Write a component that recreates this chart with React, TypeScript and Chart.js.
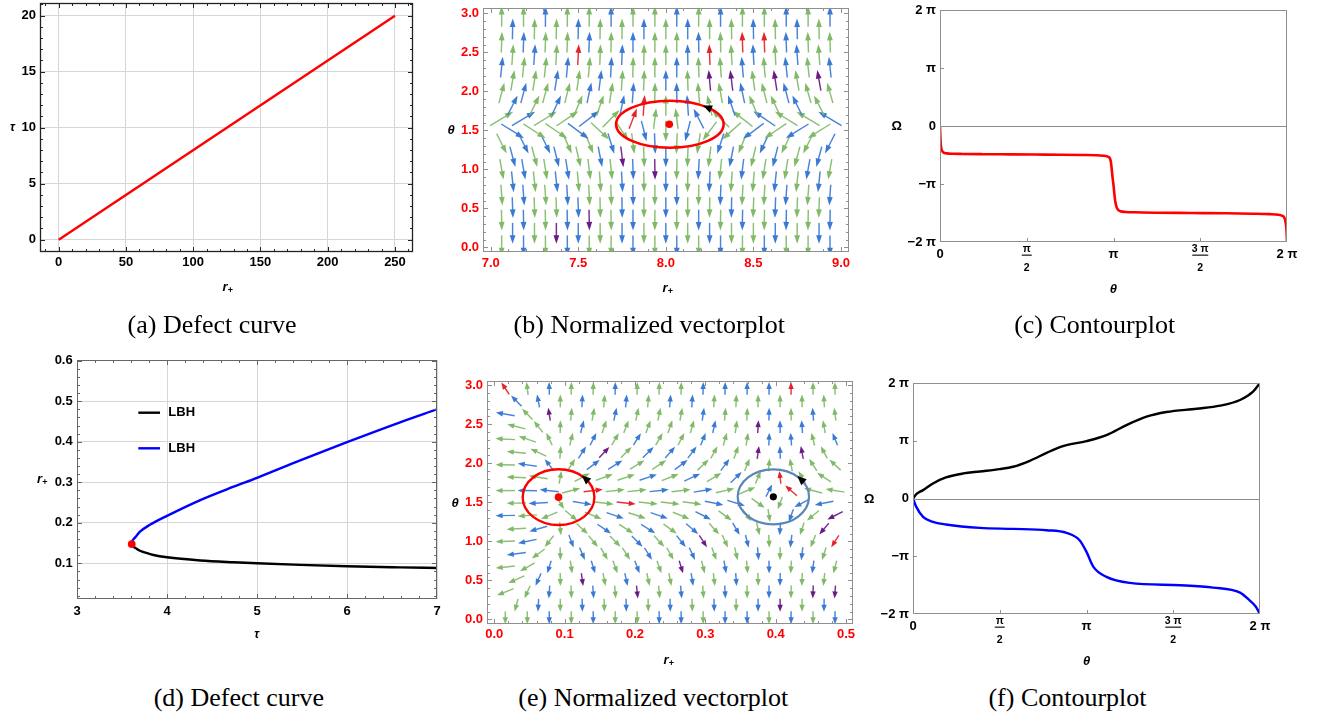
import React, { useEffect, useRef } from 'react';
import { Chart, registerables } from 'chart.js';

Chart.register(...registerables);

const SANS = '"Liberation Sans", Arial, Helvetica, sans-serif';
const SERIF = '"Liberation Serif", "Times New Roman", Times, serif';
const PI = Math.PI;

Chart.defaults.font.family = SANS;
Chart.defaults.font.weight = 'bold' as any;
Chart.defaults.font.size = 13;

/* ---------------- (a) defect curve ---------------- */
const A_R_PLUS = [0, 250];
const A_TAU = [0, 20];
const A_X_TICKS = [0, 50, 100, 150, 200, 250];
const A_Y_TICKS = [0, 5, 10, 15, 20];

/* ---------------- shared theta rows of the vector grids ---------------- */
const THETA_ROWS = [0.02, 0.18, 0.35, 0.51, 0.67, 0.84, 1.0, 1.16, 1.33, 1.49, 1.65, 1.82, 1.98, 2.14, 2.31, 2.47, 2.63, 2.8, 2.96];

/* ---------------- (b) normalized vector plot ---------------- */
const B_X_TICKS = [7.0, 7.5, 8.0, 8.5, 9.0];
const B_Y_TICKS = [0, 0.5, 1, 1.5, 2, 2.5, 3];
const B_X_EVEN = [7.0625, 7.1875, 7.3125, 7.4375, 7.5625, 7.6875, 7.8125, 7.9375, 8.0625, 8.1875, 8.3125, 8.4375, 8.5625, 8.6875, 8.8125, 8.9375];
const B_X_ODD = [7.125, 7.25, 7.375, 7.5, 7.625, 7.75, 7.875, 8.0, 8.125, 8.25, 8.375, 8.5, 8.625, 8.75, 8.875];
// arrow directions (degrees, screen orientation), row 0 = bottom
const B_ANGLES = [
  [-90, -90, -90, -90, -90, -90, -90, -90, -90, -90, -90, -90, -90, -90, -90, -90],
  [-90, -90, -90, -90, -90, -90, -90, -90, -90, -90, -90, -90, -90, -90, -90],
  [-89, -89, -89, -89, -89, -89, -90, -90, -90, -90, -91, -91, -91, -91, -91, -91],
  [-88, -88, -88, -88, -89, -89, -90, -90, -90, -91, -91, -92, -92, -92, -92],
  [-86, -86, -86, -87, -87, -88, -89, -90, -90, -91, -92, -93, -93, -94, -94, -94],
  [-84, -84, -84, -85, -86, -87, -89, -90, -91, -93, -94, -95, -96, -96, -96],
  [-80, -80, -81, -81, -83, -84, -88, -89, -91, -93, -96, -97, -99, -99, -100, -100],
  [-75, -75, -76, -77, -79, -83, -88, -90, -92, -97, -101, -103, -104, -105, -105],
  [-63, -63, -64, -66, -68, -73, -83, -88, -92, -99, -108, -112, -115, -116, -117, -117],
  [-32, -33, -34, -37, -43, -56, -76, -90, -104, -127, -138, -143, -146, -148, -148],
  [31, 31, 32, 34, 38, 46, 69, 83, 97, 117, 135, 142, 146, 148, 149, 149],
  [63, 64, 65, 67, 71, 78, 86, 90, 94, 103, 109, 113, 115, 116, 117],
  [75, 75, 75, 76, 78, 81, 86, 89, 91, 95, 100, 102, 104, 105, 106, 106],
  [80, 81, 81, 82, 83, 86, 88, 90, 92, 95, 97, 98, 99, 100, 100],
  [84, 84, 84, 85, 85, 87, 89, 90, 90, 92, 94, 95, 95, 96, 96, 96],
  [86, 86, 87, 87, 88, 88, 89, 90, 91, 92, 93, 93, 93, 94, 94],
  [88, 88, 88, 88, 88, 89, 90, 90, 90, 91, 91, 92, 92, 92, 92, 92],
  [89, 89, 89, 89, 89, 90, 90, 90, 90, 90, 91, 91, 91, 91, 91],
  [90, 90, 90, 90, 90, 90, 90, 90, 90, 90, 90, 90, 90, 90, 90, 90],
];
const B_COLORS = [
  'GBGBGGBGBGBGBGGB', 'BGPBGBGBGBGGBGB', 'GBGBPGBGGBGBGBGB', 'BGGBGBGBGGBGBGG',
  'GBGBGGBGBGBGGBGB', 'BGBGGBGBGBGGBGB', 'GBGBGGBPGBGBGGBG', 'BGBGBPGBGGBGBGB',
  'GBBGGBGBGGBGBGGB', 'BGGBGGBGBGGBGBG', 'GBGGBGRGGBGGBGGB', 'BGBGGBRGBGBGGBG',
  'GBGGBGBGBGGBGBGG', 'GGBGBGGBGPPGPGP', 'BGGBGBGGBGGBGBGB', 'GBGRGBGGBRGBGBG',
  'GBGGBGBGGBGRRBGG', 'BGGBGGBGBGGBGBG', 'GGBGGBGGBGBGGBGB',
];
const B_ZERO = { r: 8.02, theta: 1.578 };
const B_LOOP = { r: 8.023, theta: 1.578, dr: 0.307, dtheta: 0.301, head: 46 };

/* ---------------- (c) contour plot ---------------- */
const C_THETA_PI = [0, 0.002, 0.004, 0.007, 0.011, 0.017, 0.027, 0.04, 0.07, 0.13, 0.25, 0.4, 0.55, 0.7, 0.82, 0.9, 0.94, 0.96, 0.972, 0.98, 0.985, 0.99, 0.995, 1.0, 1.005, 1.01, 1.017, 1.025, 1.04, 1.07, 1.12, 1.25, 1.45, 1.65, 1.8, 1.9, 1.95, 1.97, 1.983, 1.99, 1.995, 1.998, 2.0];
const C_OMEGA_PI = [0, -0.18, -0.3, -0.38, -0.42, -0.45, -0.465, -0.472, -0.478, -0.482, -0.486, -0.489, -0.492, -0.495, -0.5, -0.505, -0.512, -0.52, -0.535, -0.56, -0.62, -0.75, -0.9, -1.02, -1.17, -1.3, -1.39, -1.44, -1.47, -1.482, -1.488, -1.495, -1.5, -1.505, -1.512, -1.52, -1.53, -1.545, -1.57, -1.63, -1.72, -1.84, -2.0];
const PI_Y_TICKS = [-2, -1, 0, 1, 2];
const PI_Y_LABELS = ['\u22122 \u03c0', '\u2212\u03c0', '0', '\u03c0', '2 \u03c0'];
const PI_X_TICKS = [0, 0.5, 1, 1.5, 2];
const PI_X_LABELS = [{ n: '0' }, { n: '\u03c0', d: '2' }, { n: '\u03c0' }, { n: '3 \u03c0', d: '2' }, { n: '2 \u03c0' }];

/* ---------------- (d) defect curve ---------------- */
const D_X_TICKS = [3, 4, 5, 6, 7];
const D_Y_TICKS = [0.1, 0.2, 0.3, 0.4, 0.5, 0.6];
const D_TAU_BLUE = [3.608, 3.615, 3.626, 3.65, 3.7, 3.81, 4.0, 4.37, 4.74, 5.0, 5.48, 6.0, 6.59, 7.0];
const D_R_BLUE = [0.1475, 0.155, 0.159, 0.165, 0.178, 0.195, 0.217, 0.256, 0.289, 0.311, 0.354, 0.399, 0.448, 0.48];
const D_TAU_BLACK = [3.608, 3.627, 3.65, 3.7, 3.78, 3.85, 4.0, 4.37, 4.74, 5.0, 5.48, 6.0, 6.59, 7.0];
const D_R_BLACK = [0.1475, 0.141, 0.1378, 0.131, 0.125, 0.1205, 0.1148, 0.107, 0.1025, 0.1, 0.096, 0.0926, 0.09, 0.0885];
const D_CRIT = { tau: 3.608, r: 0.1475 };
const D_LEGEND = ['LBH', 'LBH'];

/* ---------------- (e) normalized vector plot ---------------- */
const E_X_TICKS = [0, 0.1, 0.2, 0.3, 0.4, 0.5];
const E_Y_TICKS = [0, 0.5, 1, 1.5, 2, 2.5, 3];
const E_X_EVEN = [0.0156, 0.0469, 0.0781, 0.1094, 0.1406, 0.1719, 0.2031, 0.2344, 0.2656, 0.2969, 0.3281, 0.3594, 0.3906, 0.4219, 0.4531, 0.4844];
const E_X_ODD = [0.0313, 0.0625, 0.0938, 0.125, 0.1563, 0.1875, 0.2188, 0.25, 0.2813, 0.3125, 0.3438, 0.375, 0.4063, 0.4375, 0.4688];
const E_ANGLES = [
  [-90, -90, -90, -90, -90, -90, -90, -90, -90, -90, -90, -90, -90, -90, -90, -90],
  [-105, -93, -90, -89, -89, -89, -89, -89, -89, -89, -90, -90, -90, -90, -91],
  [-158, -114, -94, -88, -86, -85, -84, -85, -85, -86, -87, -89, -90, -91, -92, -94],
  [-156, -114, -89, -82, -79, -78, -78, -79, -81, -83, -86, -88, -91, -92, -96],
  [-174, -150, -107, -82, -73, -70, -69, -71, -73, -76, -80, -85, -89, -93, -98, -104],
  [-172, -143, -88, -67, -60, -57, -58, -61, -65, -70, -77, -85, -91, -97, -108],
  [-178, -168, -128, -69, -51, -46, -45, -47, -51, -57, -65, -76, -87, -97, -112, -123],
  [-177, -164, -84, -43, -34, -32, -32, -35, -40, -48, -60, -77, -94, -108, -130],
  [-179, -176, -157, -40, -22, -19, -18, -19, -22, -27, -36, -53, -81, -110, -140, -153],
  [-179, -177, -58, -9, -7, -6, -6, -7, -8, -11, -17, -36, -110, -152, -169],
  [180, 179, 173, 15, 7, 6, 6, 6, 7, 9, 13, 23, 63, 139, 165, 171],
  [178, 171, 79, 28, 20, 19, 19, 21, 25, 31, 44, 67, 97, 120, 147],
  [179, 172, 128, 57, 37, 32, 31, 33, 37, 43, 53, 68, 85, 101, 123, 137],
  [175, 155, 86, 57, 47, 45, 45, 48, 53, 61, 70, 82, 92, 101, 118],
  [177, 161, 116, 76, 63, 59, 58, 60, 63, 68, 74, 81, 88, 94, 104, 112],
  [166, 128, 89, 76, 71, 69, 70, 71, 74, 78, 82, 87, 91, 94, 101],
  [170, 134, 99, 85, 80, 78, 78, 79, 80, 82, 85, 87, 89, 91, 95, 98],
  [134, 101, 90, 87, 85, 85, 85, 85, 86, 87, 88, 89, 90, 91, 93],
  [124, 97, 91, 89, 89, 89, 89, 89, 89, 89, 89, 90, 90, 90, 90, 91],
];
const E_COLORS = [
  'GGBGBGGBBGBBGBGB', 'GBGBGBGBGBGBPGB', 'GGBGBGPGBGBGBGPP', 'GBGPGBGGBGBGBGG',
  'GGBGBGBGPGBGBGBG', 'BGGBGGBGBGGBGBG', 'GBGBGGBGBPGBGBGR', 'GBGGBGBGBGBGBGP',
  'BGGGGBGBGBGGGBGP', 'GBGBGRGGGBBGGBB', 'GBBGRGGBGBGGBRGG', 'GGGGGGBGBGBGRGG',
  'GBBGBBGGBGBGGGGG', 'GGGBPGBBBGGPBPG', 'GGGGBGBGGBGGBBGB', 'GGGBGGGGGBGPBBG',
  'BGPGGBGGGBGGBGBG', 'BBGBGBGBBGGGGGG', 'RGBGGBGGGBBBBRGG',
];
const E_ZERO_A = { r: 0.0913, theta: 1.566 };
const E_ZERO_B = { r: 0.3967, theta: 1.57 };
const E_LOOP_A = { r: 0.0913, theta: 1.566, dr: 0.051, dtheta: 0.357, head: 42 };
const E_LOOP_B = { r: 0.3967, theta: 1.57, dr: 0.0507, dtheta: 0.353, head: 40 };

/* ---------------- (f) contour plot ---------------- */
const F_THETA_K_PI = [0, 0.019, 0.058, 0.115, 0.19, 0.29, 0.385, 0.5, 0.577, 0.673, 0.77, 0.865, 1.0, 1.115, 1.23, 1.346, 1.46, 1.635, 1.77, 1.885, 1.96, 2.0];
const F_OMEGA_K_PI = [0, 0.075, 0.145, 0.26, 0.364, 0.434, 0.468, 0.509, 0.55, 0.653, 0.79, 0.907, 0.994, 1.098, 1.27, 1.416, 1.497, 1.555, 1.607, 1.705, 1.85, 2.0];
const F_THETA_B_PI = [0, 0.019, 0.058, 0.115, 0.19, 0.385, 0.577, 0.77, 0.885, 0.96, 1.0, 1.04, 1.115, 1.25, 1.54, 1.73, 1.885, 1.94, 1.975, 2.0];
const F_OMEGA_B_PI = [0, -0.145, -0.318, -0.405, -0.45, -0.509, -0.526, -0.549, -0.595, -0.723, -0.925, -1.185, -1.358, -1.462, -1.503, -1.543, -1.63, -1.763, -1.87, -2.0];

const CAPTIONS = [
  { text: '(a) Defect curve', cx: 212, base: 333.3 },
  { text: '(b) Normalized vectorplot', cx: 649.3, base: 333.3 },
  { text: '(c) Contourplot', cx: 1094.7, base: 333.3 },
  { text: '(d) Defect curve', cx: 238.8, base: 706.7 },
  { text: '(e) Normalized vectorplot', cx: 653.3, base: 706.7 },
  { text: '(f) Contourplot', cx: 1067.5, base: 706.7 },
];

const ARROW_HEX: Record<string, string> = { G: '#80ba68', B: '#3a7ad2', P: '#681b82', R: '#e3222a' };

/* ---------------- helpers ---------------- */
function steps(a: number, b: number, st: number) {
  const out: number[] = [];
  const n = Math.round((b - a) / st);
  for (let i = 0; i <= n; i++) out.push(+(a + i * st).toFixed(6));
  return out;
}

function txt(ctx: any, s: string, x: number, y: number, font: string, align = 'center', base = 'middle', color = '#000') {
  ctx.font = font;
  ctx.textAlign = align;
  ctx.textBaseline = base;
  ctx.fillStyle = color;
  ctx.fillText(s, x, y);
}

function rPlus(ctx: any, x: number, y: number) {
  txt(ctx, 'r', x, y, `italic bold 13px ${SANS}`);
  txt(ctx, '+', x + 5.5, y + 3.5, `bold 9px ${SANS}`);
}

function framePlugin(o: any) {
  return {
    id: 'frameTicks',
    beforeDatasetsDraw(chart: any) {
      if (!o.zeroLine) return;
      const { ctx, chartArea: ca, scales } = chart;
      const y = Math.round(scales.y.getPixelForValue(0)) + 0.5;
      ctx.save();
      ctx.strokeStyle = '#8a8a8a';
      ctx.lineWidth = 1.2;
      ctx.beginPath();
      ctx.moveTo(ca.left, y);
      ctx.lineTo(ca.right, y);
      ctx.stroke();
      ctx.restore();
    },
    afterDatasetsDraw(chart: any) {
      const { ctx, chartArea: ca, scales } = chart;
      const xs = scales.x, ys = scales.y;
      ctx.save();
      ctx.strokeStyle = o.color;
      ctx.lineWidth = o.frameWidth || 1;
      ctx.strokeRect(ca.left + 0.5, ca.top + 0.5, ca.right - ca.left - 1, ca.bottom - ca.top - 1);
      ctx.lineWidth = 1;
      ctx.beginPath();
      const tx = (vals: number[], len: number) => vals.forEach((v) => {
        const px = Math.round(xs.getPixelForValue(v)) + 0.5;
        if (px < ca.left - 0.1 || px > ca.right + 0.1) return;
        ctx.moveTo(px, ca.bottom); ctx.lineTo(px, ca.bottom - len);
        if (o.allSides) { ctx.moveTo(px, ca.top); ctx.lineTo(px, ca.top + len); }
      });
      const ty = (vals: number[], len: number) => vals.forEach((v) => {
        const py = Math.round(ys.getPixelForValue(v)) + 0.5;
        if (py < ca.top - 0.1 || py > ca.bottom + 0.1) return;
        ctx.moveTo(ca.left, py); ctx.lineTo(ca.left + len, py);
        if (o.allSides) { ctx.moveTo(ca.right, py); ctx.lineTo(ca.right - len, py); }
      });
      tx(o.xMinor || [], o.minor);
      ty(o.yMinor || [], o.minor);
      tx(o.xMajor, o.major);
      ty(o.yMajor, o.major);
      ctx.stroke();
      ctx.restore();
    },
  };
}

function decorPlugin(box: any, draw: (ctx: any, chart: any, P: (x: number, y: number) => [number, number]) => void) {
  return {
    id: 'decor',
    afterDatasetsDraw(chart: any) {
      const ctx = chart.ctx;
      ctx.save();
      draw(ctx, chart, (x: number, y: number) => [x - box.L, y - box.T]);
      ctx.restore();
    },
  };
}

function loopHead(ctx: any, cx: number, cy: number, rx: number, ry: number, tDeg: number) {
  const t = (tDeg * PI) / 180;
  const px = cx + rx * Math.cos(t), py = cy - ry * Math.sin(t);
  let ux = -rx * Math.sin(t), uy = -ry * Math.cos(t);
  const n = Math.hypot(ux, uy); ux /= n; uy /= n;
  const len = 9, hw = 4;
  const tipx = px + ux * len * 0.5, tipy = py + uy * len * 0.5;
  const bx = px - ux * len * 0.5, by = py - uy * len * 0.5;
  ctx.fillStyle = '#000';
  ctx.beginPath();
  ctx.moveTo(tipx, tipy);
  ctx.lineTo(bx - uy * hw, by + ux * hw);
  ctx.lineTo(bx + uy * hw, by - ux * hw);
  ctx.closePath();
  ctx.fill();
}

function arrowsPlugin(o: any) {
  return {
    id: 'arrowField',
    beforeDatasetsDraw(chart: any) {
      const { ctx, chartArea: ca, scales } = chart;
      ctx.save();
      ctx.beginPath();
      ctx.rect(ca.left, ca.top, ca.right - ca.left, ca.bottom - ca.top);
      ctx.clip();
      const W = ca.right - ca.left, H = ca.bottom - ca.top;
      chart.data.datasets.forEach((ds: any, di: number) => {
        if (!ds.isField) return;
        const meta = chart.getDatasetMeta(di);
        meta.data.forEach((el: any, k: number) => {
          const raw = ds.data[k];
          const col = ARROW_HEX[raw.c] || ARROW_HEX.G;
          const rad = (raw.a * PI) / 180;
          const c = Math.cos(rad), s = Math.sin(rad);
          const L = o.len / Math.hypot(c / W, s / H);
          const ux = c, uy = -s;
          const hx = el.x + (ux * L) / 2, hy = el.y + (uy * L) / 2;
          const tx = el.x - (ux * L) / 2, ty = el.y - (uy * L) / 2;
          const bx = hx - ux * o.head, by = hy - uy * o.head;
          ctx.strokeStyle = col;
          ctx.globalAlpha = 0.92;
          ctx.lineWidth = o.lw;
          ctx.beginPath();
          ctx.moveTo(tx, ty);
          ctx.lineTo(bx + ux, by + uy);
          ctx.stroke();
          ctx.globalAlpha = 1;
          ctx.fillStyle = col;
          const hw = o.headW / 2;
          ctx.beginPath();
          ctx.moveTo(hx, hy);
          ctx.lineTo(bx - uy * hw, by + ux * hw);
          ctx.lineTo(bx + uy * hw, by - ux * hw);
          ctx.closePath();
          ctx.fill();
        });
      });
      ctx.restore();
      ctx.save();
      (o.loops || []).forEach((lp: any) => {
        const cx = scales.x.getPixelForValue(lp.r), cy = scales.y.getPixelForValue(lp.theta);
        const rx = Math.abs(scales.x.getPixelForValue(lp.r + lp.dr) - cx);
        const ry = Math.abs(scales.y.getPixelForValue(lp.theta + lp.dtheta) - cy);
        ctx.strokeStyle = lp.color;
        ctx.lineWidth = lp.width;
        ctx.beginPath();
        ctx.ellipse(cx, cy, rx, ry, 0, 0, 2 * PI);
        ctx.stroke();
        loopHead(ctx, cx, cy, rx, ry, lp.head);
      });
      ctx.restore();
    },
  };
}

function fieldPoints(xEven: number[], xOdd: number[], rows: number[], ang: number[][], col: string[]) {
  const pts: any[] = [];
  rows.forEach((th, j) => {
    const xs = j % 2 === 0 ? xEven : xOdd;
    xs.forEach((x, i) => pts.push({ x, y: th, a: ang[j][i], c: col[j][i] }));
  });
  return pts;
}

function piXLabels(ctx: any, chart: any, bottom: number, P: any) {
  const xs = chart.scales.x;
  PI_X_TICKS.forEach((v, i) => {
    const lab: any = PI_X_LABELS[i];
    const x = xs.getPixelForValue(v * PI);
    const [, yb] = P(0, bottom);
    if (!lab.d) {
      txt(ctx, lab.n, x, yb + 16.3, `bold 13px ${SANS}`, 'center', 'alphabetic');
    } else {
      txt(ctx, lab.n, x, yb + 9.8, `bold 10.5px ${SANS}`, 'center', 'alphabetic');
      const w = lab.n.length > 1 ? 16 : 10;
      ctx.fillStyle = '#000';
      ctx.fillRect(x - w / 2, yb + 12.6, w, 1.1);
      txt(ctx, lab.d, x, yb + 28.5, `bold 10.5px ${SANS}`, 'center', 'alphabetic');
    }
  });
}

function makeConfig(box: any, s: any) {
  const tickFont = { family: SANS, size: 13, weight: 'bold', style: 'normal', lineHeight: 1.2 };
  const axis = (a: any, horiz: boolean) => ({
    type: 'linear',
    position: horiz ? 'bottom' : 'left',
    min: a.min,
    max: a.max,
    afterBuildTicks: (sc: any) => { sc.ticks = a.ticks.map((v: number) => ({ value: v })); },
    afterFit: (sc: any) => {
      if (horiz) sc.height = box.T + box.H - s.area.y1;
      else sc.width = s.area.x0 - box.L;
    },
    ticks: {
      display: a.show !== false,
      autoSkip: false,
      maxRotation: 0,
      minRotation: 0,
      padding: a.pad,
      color: s.labelColor,
      font: tickFont,
      callback: (v: any) => a.fmt(Number(v)),
    },
    grid: { display: !!s.grid, color: '#d6d6d6', lineWidth: 1, drawTicks: false },
    border: { display: false },
  });
  return {
    type: 'scatter',
    data: { datasets: s.datasets },
    options: {
      responsive: false,
      maintainAspectRatio: false,
      animation: false,
      devicePixelRatio: 1,
      events: [],
      font: { family: SANS, weight: 'bold', size: 13 },
      layout: { padding: { left: 0, top: s.area.y0 - box.T, right: box.L + box.W - s.area.x1, bottom: 0 } },
      plugins: { legend: { display: false }, tooltip: { enabled: false }, title: { display: false } },
      scales: { x: axis(s.x, true), y: axis(s.y, false) },
    },
    plugins: s.plugins,
  };
}

const fmt1 = (v: number) => v.toFixed(1);
const piFmt = (v: number) => {
  const k = PI_Y_TICKS.indexOf(Math.round(v / PI));
  return k >= 0 ? PI_Y_LABELS[k] : '';
};

const curve = (xs: number[], ys: number[], color: string, width: number, scale = 1, order = 1) => ({
  data: xs.map((x, i) => ({ x: x * scale, y: ys[i] * scale })),
  showLine: true,
  borderColor: color,
  borderWidth: width,
  pointRadius: 0,
  cubicInterpolationMode: 'monotone',
  order,
});

const dot = (x: number, y: number, color: string, r: number) => ({
  data: [{ x, y }],
  showLine: false,
  pointRadius: r,
  pointBackgroundColor: color,
  pointBorderWidth: 0,
  order: 0,
});

/* ---------------- panels ---------------- */
const PANELS = [
  {
    box: { L: 0, T: -20, W: 440, H: 340 },
    build: (box: any) => ({
      area: { x0: 40, y0: 3, x1: 413, y1: 252 },
      x: { min: -13.9, max: 263.4, ticks: A_X_TICKS, fmt: (v: number) => String(v), pad: 3 },
      y: { min: -1.1, max: 21.13, ticks: A_Y_TICKS, fmt: (v: number) => String(v), pad: 4 },
      labelColor: '#000',
      grid: true,
      datasets: [{ data: A_R_PLUS.map((r, i) => ({ x: r, y: A_TAU[i] })), showLine: true, borderColor: '#ff0000', borderWidth: 2.4, pointRadius: 0 }],
      plugins: [
        framePlugin({ color: '#222', frameWidth: 1.3, allSides: true, major: 5, minor: 3, xMajor: A_X_TICKS, yMajor: A_Y_TICKS, xMinor: steps(-10, 260, 10), yMinor: steps(-1, 21, 1) }),
        decorPlugin(box, (ctx, chart, P) => {
          txt(ctx, '\u03c4', ...P(12.5, 128), `italic bold 12px ${SANS}`);
          rPlus(ctx, ...P(225, 287));
        }),
      ],
    }),
  },
  {
    box: { L: 440, T: -20, W: 440, H: 340 },
    build: (box: any) => ({
      area: { x0: 483, y0: 8, x1: 849, y1: 252 },
      x: { min: 6.956, max: 9.046, ticks: B_X_TICKS, fmt: fmt1, pad: 3.5 },
      y: { min: -0.06, max: 3.068, ticks: B_Y_TICKS, fmt: fmt1, pad: 4 },
      labelColor: '#ff0000',
      grid: false,
      datasets: [
        dot(B_ZERO.r, B_ZERO.theta, '#ff0000', 3.8),
        { data: fieldPoints(B_X_EVEN, B_X_ODD, THETA_ROWS, B_ANGLES, B_COLORS), isField: true, showLine: false, pointRadius: 0, order: 5 },
      ],
      plugins: [
        arrowsPlugin({ len: 0.085, head: 8.5, headW: 5.8, lw: 1.45, loops: [{ ...B_LOOP, color: '#ff0000', width: 2.6 }] }),
        framePlugin({ color: '#8f8f8f', allSides: true, major: 5, minor: 3, xMajor: B_X_TICKS, yMajor: B_Y_TICKS, xMinor: steps(7, 9, 0.1), yMinor: steps(0, 3, 0.1) }),
        decorPlugin(box, (ctx, chart, P) => {
          txt(ctx, '\u03b8', ...P(451.2, 130), `italic bold 13px ${SANS}`);
          rPlus(ctx, ...P(665, 288));
        }),
      ],
    }),
  },
  {
    box: { L: 880, T: -20, W: 445, H: 340 },
    build: (box: any) => ({
      area: { x0: 940, y0: 10, x1: 1287, y1: 242 },
      x: { min: 0, max: 2 * PI, ticks: PI_X_TICKS.map((v) => v * PI), fmt: () => '', pad: 3, show: false },
      y: { min: -2 * PI, max: 2 * PI, ticks: PI_Y_TICKS.map((v) => v * PI), fmt: piFmt, pad: 4 },
      labelColor: '#000',
      grid: false,
      datasets: [curve(C_THETA_PI, C_OMEGA_PI, '#ff0000', 2.6, PI)],
      plugins: [
        framePlugin({ color: '#8f8f8f', allSides: false, zeroLine: true, major: 4, minor: 0, xMajor: PI_X_TICKS.map((v) => v * PI), yMajor: PI_Y_TICKS.map((v) => v * PI) }),
        decorPlugin(box, (ctx, chart, P) => {
          piXLabels(ctx, chart, 242, P);
          txt(ctx, '\u03a9', ...P(896.7, 126.7), `bold 13px ${SANS}`);
          txt(ctx, '\u03b8', ...P(1113.3, 289), `italic bold 13px ${SANS}`);
        }),
      ],
    }),
  },
  {
    box: { L: 0, T: 340, W: 460, H: 340 },
    build: (box: any) => ({
      area: { x0: 77, y0: 360, x1: 437, y1: 599 },
      x: { min: 3, max: 7, ticks: D_X_TICKS, fmt: (v: number) => String(v), pad: 4.9 },
      y: { min: 0.0119, max: 0.6017, ticks: D_Y_TICKS, fmt: fmt1, pad: 4.3 },
      labelColor: '#000',
      grid: true,
      datasets: [
        dot(D_CRIT.tau, D_CRIT.r, '#ff0000', 3.9),
        curve(D_TAU_BLUE, D_R_BLUE, '#0000ff', 2.4, 1, 1),
        curve(D_TAU_BLACK, D_R_BLACK, '#000000', 2.4, 1, 2),
      ],
      plugins: [
        framePlugin({ color: '#666', allSides: true, major: 5, minor: 3, xMajor: D_X_TICKS, yMajor: D_Y_TICKS, xMinor: steps(3, 7, 0.2), yMinor: steps(0.02, 0.6, 0.02) }),
        decorPlugin(box, (ctx, chart, P) => {
          const cols = ['#000000', '#0000ff'];
          const ys = [412.7, 448.3];
          D_LEGEND.forEach((lab, i) => {
            const [x1, y1] = P(138.3, ys[i]);
            const [x2] = P(160, ys[i]);
            ctx.strokeStyle = cols[i];
            ctx.lineWidth = 2.4;
            ctx.beginPath(); ctx.moveTo(x1, y1); ctx.lineTo(x2, y1); ctx.stroke();
            txt(ctx, lab, ...P(168.3, ys[i]), `bold 13px ${SANS}`, 'left', 'middle');
          });
          rPlus(ctx, ...P(39.5, 479));
          txt(ctx, '\u03c4', ...P(256.8, 635), `italic bold 12px ${SANS}`);
        }),
      ],
    }),
  },
  {
    box: { L: 440, T: 340, W: 440, H: 340 },
    build: (box: any) => ({
      area: { x0: 487, y0: 381, x1: 853, y1: 624 },
      x: { min: -0.0104, max: 0.50995, ticks: E_X_TICKS, fmt: fmt1, pad: 3 },
      y: { min: -0.06, max: 3.055, ticks: E_Y_TICKS, fmt: fmt1, pad: 4 },
      labelColor: '#ff0000',
      grid: false,
      datasets: [
        dot(E_ZERO_A.r, E_ZERO_A.theta, '#ff0000', 3.8),
        dot(E_ZERO_B.r, E_ZERO_B.theta, '#000000', 3.6),
        { data: fieldPoints(E_X_EVEN, E_X_ODD, THETA_ROWS, E_ANGLES, E_COLORS), isField: true, showLine: false, pointRadius: 0, order: 5 },
      ],
      plugins: [
        arrowsPlugin({
          len: 0.053, head: 7, headW: 5.4, lw: 1.45,
          loops: [
            { ...E_LOOP_A, color: '#ff0000', width: 2.4 },
            { ...E_LOOP_B, color: '#5a86b9', width: 2.2 },
          ],
        }),
        framePlugin({ color: '#8f8f8f', allSides: true, major: 5, minor: 3, xMajor: E_X_TICKS, yMajor: E_Y_TICKS, xMinor: steps(0, 0.5, 0.02), yMinor: steps(0, 3, 0.1) }),
        decorPlugin(box, (ctx, chart, P) => {
          txt(ctx, '\u03b8', ...P(455, 503.3), `italic bold 13px ${SANS}`);
          rPlus(ctx, ...P(666, 660));
        }),
      ],
    }),
  },
  {
    box: { L: 855, T: 340, W: 470, H: 340 },
    build: (box: any) => ({
      area: { x0: 913, y0: 383, x1: 1260, y1: 614 },
      x: { min: 0, max: 2 * PI, ticks: PI_X_TICKS.map((v) => v * PI), fmt: () => '', pad: 3, show: false },
      y: { min: -2 * PI, max: 2 * PI, ticks: PI_Y_TICKS.map((v) => v * PI), fmt: piFmt, pad: 4 },
      labelColor: '#000',
      grid: false,
      datasets: [
        curve(F_THETA_K_PI, F_OMEGA_K_PI, '#000000', 2.4, PI, 1),
        curve(F_THETA_B_PI, F_OMEGA_B_PI, '#0000ff', 2.4, PI, 2),
      ],
      plugins: [
        framePlugin({ color: '#8f8f8f', allSides: false, zeroLine: true, major: 4, minor: 0, xMajor: PI_X_TICKS.map((v) => v * PI), yMajor: PI_Y_TICKS.map((v) => v * PI) }),
        decorPlugin(box, (ctx, chart, P) => {
          piXLabels(ctx, chart, 614, P);
          txt(ctx, '\u03a9', ...P(869.2, 499.3), `bold 13px ${SANS}`);
          txt(ctx, '\u03b8', ...P(1086.7, 661), `italic bold 13px ${SANS}`);
        }),
      ],
    }),
  },
];

function Panel({ p }: { p: any }) {
  const ref = useRef<HTMLCanvasElement>(null);
  useEffect(() => {
    if (!ref.current) return;
    const spec = p.build(p.box);
    const chart = new Chart(ref.current, makeConfig(p.box, spec) as any);
    return () => chart.destroy();
  }, [p]);
  const b = p.box;
  return (
    <canvas
      ref={ref}
      width={b.W}
      height={b.H}
      style={{ position: 'absolute', left: b.L, top: b.T, width: b.W, height: b.H }}
    />
  );
}

export default function App() {
  return (
    <div style={{ position: 'fixed', left: 0, top: 0, width: 1325, height: 717, background: '#ffffff', overflow: 'hidden' }}>
      {PANELS.map((p, i) => (
        <Panel key={i} p={p} />
      ))}
      {CAPTIONS.map((c, i) => (
        <div
          key={'cap' + i}
          style={{
            position: 'absolute',
            left: c.cx - 200,
            width: 400,
            top: c.base - 21.8,
            textAlign: 'center',
            fontFamily: SERIF,
            fontSize: 26,
            lineHeight: '26px',
            color: '#000',
            whiteSpace: 'nowrap',
          }}
        >
          {c.text}
        </div>
      ))}
    </div>
  );
}
